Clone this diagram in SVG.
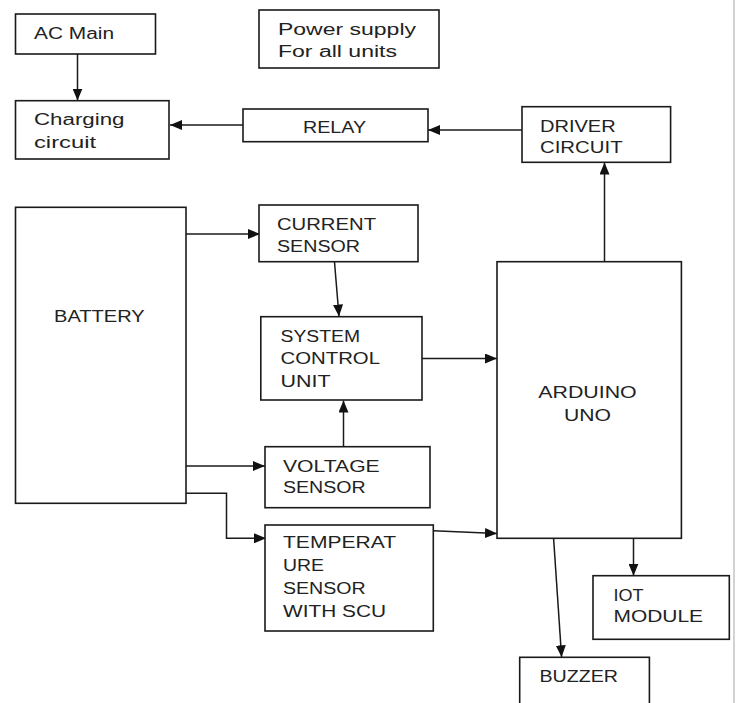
<svg xmlns="http://www.w3.org/2000/svg" width="737" height="703" viewBox="0 0 737 703">
<defs>
<style>
.box{fill:#fff;stroke:#1a1a1a;stroke-width:1.6}
.t{font-family:"Liberation Sans",Arial,sans-serif;font-size:16px;fill:#222}
.c{fill:none;stroke:#1a1a1a;stroke-width:1.5}
</style>
<marker id="ah" markerUnits="userSpaceOnUse" markerWidth="12" markerHeight="10" refX="12" refY="5" orient="auto">
<path d="M0,0 L12,5 L0,10 z" fill="#111"/>
</marker>
</defs>
<rect x="0" y="0" width="737" height="703" fill="#fff"/>
<line x1="734" y1="0" x2="734" y2="703" stroke="#d2d2d2" stroke-width="2"/>

<g id="connectors">
<line class="c" x1="77.5" y1="54" x2="77.5" y2="100.5" marker-end="url(#ah)"/>
<line class="c" x1="243" y1="125" x2="170" y2="125" marker-end="url(#ah)"/>
<line class="c" x1="522" y1="130" x2="428" y2="130" marker-end="url(#ah)"/>
<line class="c" x1="604.5" y1="262" x2="604.5" y2="162.5" marker-end="url(#ah)"/>
<line class="c" x1="186" y1="234" x2="260" y2="234" marker-end="url(#ah)"/>
<line class="c" x1="334.5" y1="262" x2="339" y2="316.5" marker-end="url(#ah)"/>
<line class="c" x1="422" y1="358.5" x2="497" y2="358.5" marker-end="url(#ah)"/>
<line class="c" x1="343.5" y1="447" x2="343.5" y2="400.5" marker-end="url(#ah)"/>
<line class="c" x1="186" y1="466" x2="265" y2="466" marker-end="url(#ah)"/>
<polyline class="c" points="184,493.3 226.5,493.3 226.5,538.3 266,538.3" marker-end="url(#ah)"/>
<line class="c" x1="433.3" y1="530.7" x2="497" y2="533.5" marker-end="url(#ah)"/>
<line class="c" x1="553.6" y1="538.5" x2="561.6" y2="657.3" marker-end="url(#ah)"/>
<line class="c" x1="633.5" y1="538.5" x2="633.5" y2="575.7" marker-end="url(#ah)"/>
</g>

<g id="ac-main">
<rect class="box" x="15.5" y="14" width="140" height="40"/>
<text class="t" x="34" y="38.5" textLength="80" lengthAdjust="spacingAndGlyphs">AC Main</text>
</g>
<g id="power-supply">
<rect class="box" x="259" y="10" width="180" height="58"/>
<text class="t" x="278" y="35" textLength="138" lengthAdjust="spacingAndGlyphs">Power supply</text>
<text class="t" x="278" y="56.5" textLength="119" lengthAdjust="spacingAndGlyphs">For all units</text>
</g>
<g id="charging-circuit">
<rect class="box" x="15.5" y="100.7" width="153.5" height="58.3"/>
<text class="t" x="34" y="125" textLength="90.5" lengthAdjust="spacingAndGlyphs">Charging</text>
<text class="t" x="34" y="147.7" textLength="62" lengthAdjust="spacingAndGlyphs">circuit</text>
</g>
<g id="relay">
<rect class="box" x="243" y="109" width="185" height="32.7"/>
<text class="t" x="303" y="133" textLength="63" lengthAdjust="spacingAndGlyphs">RELAY</text>
</g>
<g id="driver-circuit">
<rect class="box" x="522" y="106.7" width="148.6" height="55.6"/>
<text class="t" x="540" y="131.7" textLength="75.6" lengthAdjust="spacingAndGlyphs">DRIVER</text>
<text class="t" x="540" y="153.3" textLength="82.6" lengthAdjust="spacingAndGlyphs">CIRCUIT</text>
</g>
<g id="battery">
<rect class="box" x="15.5" y="207.3" width="170.5" height="296"/>
<text class="t" x="54" y="322.3" textLength="90.7" lengthAdjust="spacingAndGlyphs">BATTERY</text>
</g>
<g id="current-sensor">
<rect class="box" x="259" y="205" width="159" height="56.7"/>
<text class="t" x="277" y="230" textLength="99" lengthAdjust="spacingAndGlyphs">CURRENT</text>
<text class="t" x="277" y="251.7" textLength="83" lengthAdjust="spacingAndGlyphs">SENSOR</text>
</g>
<g id="system-control-unit">
<rect class="box" x="260.8" y="316.7" width="161.2" height="83.3"/>
<text class="t" x="280.5" y="341.7" textLength="79.5" lengthAdjust="spacingAndGlyphs">SYSTEM</text>
<text class="t" x="280.5" y="363.5" textLength="99.5" lengthAdjust="spacingAndGlyphs">CONTROL</text>
<text class="t" x="280.5" y="386.7" textLength="50" lengthAdjust="spacingAndGlyphs">UNIT</text>
</g>
<g id="arduino-uno">
<rect class="box" x="497" y="261.7" width="184.4" height="276.6"/>
<text class="t" x="538.3" y="398.3" textLength="98.4" lengthAdjust="spacingAndGlyphs">ARDUINO</text>
<text class="t" x="564" y="421" textLength="47" lengthAdjust="spacingAndGlyphs">UNO</text>
</g>
<g id="voltage-sensor">
<rect class="box" x="265" y="446.7" width="165" height="61"/>
<text class="t" x="283" y="471.7" textLength="96.7" lengthAdjust="spacingAndGlyphs">VOLTAGE</text>
<text class="t" x="283" y="493.3" textLength="82.6" lengthAdjust="spacingAndGlyphs">SENSOR</text>
</g>
<g id="temperature-sensor">
<rect class="box" x="265" y="525" width="168.3" height="106"/>
<text class="t" x="283" y="548.3" textLength="113" lengthAdjust="spacingAndGlyphs">TEMPERAT</text>
<text class="t" x="283" y="571" textLength="41" lengthAdjust="spacingAndGlyphs">URE</text>
<text class="t" x="283" y="594.3" textLength="82.6" lengthAdjust="spacingAndGlyphs">SENSOR</text>
<text class="t" x="283" y="616.7" textLength="103" lengthAdjust="spacingAndGlyphs">WITH SCU</text>
</g>
<g id="buzzer">
<rect class="box" x="519.7" y="657.3" width="129.7" height="50"/>
<text class="t" x="539.5" y="681.7" textLength="78.5" lengthAdjust="spacingAndGlyphs">BUZZER</text>
</g>
<g id="iot-module">
<rect class="box" x="593" y="575.7" width="136.3" height="63.6"/>
<text class="t" x="613.5" y="601" textLength="30" lengthAdjust="spacingAndGlyphs">IOT</text>
<text class="t" x="613.5" y="622" textLength="89.5" lengthAdjust="spacingAndGlyphs">MODULE</text>
</g>
</svg>
